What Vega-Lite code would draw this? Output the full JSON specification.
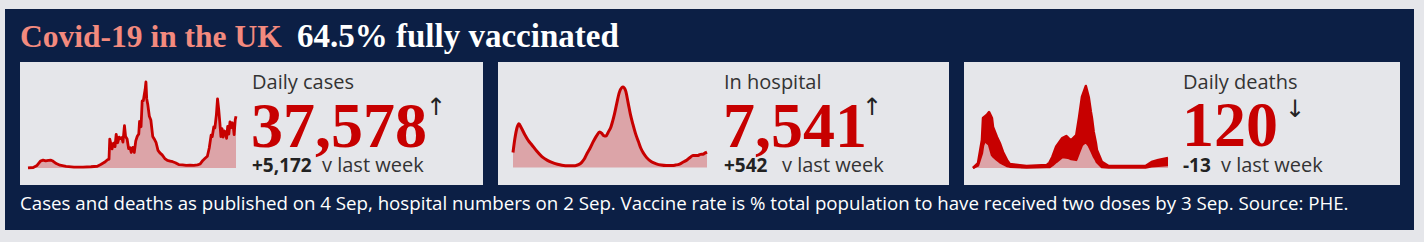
{
  "$schema": "https://vega.github.io/schema/vega-lite/v6.json",
  "width": 1409,
  "height": 221,
  "autosize": {"type": "none"},
  "padding": {"left": 5, "top": 9, "right": 10, "bottom": 12},
  "background": "#e5e6ea",
  "config": {"view": {"fill": "#0c1f45", "stroke": null}},
  "datasets": {
    "cases": [
      {"date": "2020-03-01", "value": 50}, {"date": "2020-03-15", "value": 400}, {"date": "2020-03-25", "value": 2000},
      {"date": "2020-04-03", "value": 5500}, {"date": "2020-04-10", "value": 6200}, {"date": "2020-04-17", "value": 5600},
      {"date": "2020-04-24", "value": 6000}, {"date": "2020-05-01", "value": 6200}, {"date": "2020-05-06", "value": 5500},
      {"date": "2020-05-15", "value": 3500}, {"date": "2020-05-25", "value": 2200}, {"date": "2020-06-10", "value": 1300},
      {"date": "2020-07-01", "value": 700}, {"date": "2020-07-25", "value": 750}, {"date": "2020-08-15", "value": 1000},
      {"date": "2020-09-01", "value": 1400}, {"date": "2020-09-10", "value": 2800}, {"date": "2020-09-20", "value": 4500},
      {"date": "2020-09-28", "value": 6500}, {"date": "2020-10-02", "value": 7000}, {"date": "2020-10-04", "value": 22900},
      {"date": "2020-10-07", "value": 19000}, {"date": "2020-10-10", "value": 15200}, {"date": "2020-10-14", "value": 19700},
      {"date": "2020-10-18", "value": 16900}, {"date": "2020-10-21", "value": 26700}, {"date": "2020-10-25", "value": 20000},
      {"date": "2020-10-29", "value": 24400}, {"date": "2020-11-01", "value": 23300}, {"date": "2020-11-05", "value": 24100},
      {"date": "2020-11-08", "value": 20500}, {"date": "2020-11-12", "value": 33500}, {"date": "2020-11-15", "value": 24900},
      {"date": "2020-11-19", "value": 22900}, {"date": "2020-11-23", "value": 15400}, {"date": "2020-11-27", "value": 16000},
      {"date": "2020-11-30", "value": 12300}, {"date": "2020-12-04", "value": 16300}, {"date": "2020-12-08", "value": 12300},
      {"date": "2020-12-12", "value": 21500}, {"date": "2020-12-16", "value": 25100}, {"date": "2020-12-20", "value": 27000},
      {"date": "2020-12-22", "value": 36800}, {"date": "2020-12-26", "value": 32700}, {"date": "2020-12-29", "value": 53100},
      {"date": "2021-01-01", "value": 53300}, {"date": "2021-01-04", "value": 58800}, {"date": "2021-01-06", "value": 62300},
      {"date": "2021-01-08", "value": 68100}, {"date": "2021-01-10", "value": 54900}, {"date": "2021-01-13", "value": 50000},
      {"date": "2021-01-17", "value": 41000}, {"date": "2021-01-21", "value": 38000}, {"date": "2021-01-26", "value": 25000},
      {"date": "2021-01-30", "value": 23000}, {"date": "2021-02-04", "value": 20000}, {"date": "2021-02-09", "value": 14000},
      {"date": "2021-02-14", "value": 12000}, {"date": "2021-02-20", "value": 10400}, {"date": "2021-02-27", "value": 7500},
      {"date": "2021-03-06", "value": 6000}, {"date": "2021-03-13", "value": 5500}, {"date": "2021-03-20", "value": 5000},
      {"date": "2021-03-27", "value": 4200}, {"date": "2021-04-05", "value": 2700}, {"date": "2021-04-15", "value": 2500},
      {"date": "2021-04-25", "value": 2000}, {"date": "2021-05-05", "value": 2200}, {"date": "2021-05-15", "value": 2100},
      {"date": "2021-05-25", "value": 2500}, {"date": "2021-06-01", "value": 3200}, {"date": "2021-06-08", "value": 6000},
      {"date": "2021-06-14", "value": 7700}, {"date": "2021-06-20", "value": 9300}, {"date": "2021-06-25", "value": 15800},
      {"date": "2021-06-30", "value": 26000}, {"date": "2021-07-03", "value": 24900}, {"date": "2021-07-07", "value": 32500},
      {"date": "2021-07-10", "value": 31800}, {"date": "2021-07-14", "value": 42300}, {"date": "2021-07-17", "value": 54700},
      {"date": "2021-07-20", "value": 46600}, {"date": "2021-07-23", "value": 36400}, {"date": "2021-07-26", "value": 24900},
      {"date": "2021-07-29", "value": 31100}, {"date": "2021-08-01", "value": 24500}, {"date": "2021-08-04", "value": 29300},
      {"date": "2021-08-07", "value": 28600}, {"date": "2021-08-10", "value": 23500}, {"date": "2021-08-13", "value": 33000},
      {"date": "2021-08-16", "value": 26800}, {"date": "2021-08-19", "value": 36600}, {"date": "2021-08-22", "value": 31900},
      {"date": "2021-08-25", "value": 35800}, {"date": "2021-08-28", "value": 32200}, {"date": "2021-08-30", "value": 26500},
      {"date": "2021-09-02", "value": 38200}, {"date": "2021-09-04", "value": 41000}
    ],
    "hospital": [
      {"date": "2020-03-27", "value": 7300}, {"date": "2020-04-01", "value": 14000}, {"date": "2020-04-07", "value": 19500},
      {"date": "2020-04-12", "value": 21300}, {"date": "2020-04-18", "value": 19500}, {"date": "2020-04-28", "value": 16000},
      {"date": "2020-05-08", "value": 13000}, {"date": "2020-05-17", "value": 11000}, {"date": "2020-05-30", "value": 8000},
      {"date": "2020-06-13", "value": 5300}, {"date": "2020-06-28", "value": 3500}, {"date": "2020-07-10", "value": 2500},
      {"date": "2020-07-25", "value": 1600}, {"date": "2020-08-06", "value": 1100}, {"date": "2020-08-25", "value": 800},
      {"date": "2020-09-11", "value": 900}, {"date": "2020-09-20", "value": 1400}, {"date": "2020-09-28", "value": 2400},
      {"date": "2020-10-05", "value": 4000}, {"date": "2020-10-12", "value": 6500}, {"date": "2020-10-20", "value": 9000},
      {"date": "2020-10-31", "value": 13000}, {"date": "2020-11-08", "value": 15500}, {"date": "2020-11-16", "value": 17300},
      {"date": "2020-11-22", "value": 16600}, {"date": "2020-11-27", "value": 15500}, {"date": "2020-12-03", "value": 15300},
      {"date": "2020-12-10", "value": 17500}, {"date": "2020-12-16", "value": 19500}, {"date": "2020-12-21", "value": 22500},
      {"date": "2020-12-26", "value": 26000}, {"date": "2021-01-01", "value": 31000}, {"date": "2021-01-08", "value": 36500},
      {"date": "2021-01-15", "value": 39000}, {"date": "2021-01-18", "value": 39250}, {"date": "2021-01-25", "value": 37500},
      {"date": "2021-02-01", "value": 31500}, {"date": "2021-02-07", "value": 26000}, {"date": "2021-02-14", "value": 21000},
      {"date": "2021-02-21", "value": 16500}, {"date": "2021-03-01", "value": 12500}, {"date": "2021-03-07", "value": 9500},
      {"date": "2021-03-15", "value": 6800}, {"date": "2021-03-23", "value": 4800}, {"date": "2021-04-05", "value": 2800},
      {"date": "2021-04-18", "value": 1800}, {"date": "2021-05-01", "value": 1200}, {"date": "2021-05-15", "value": 950},
      {"date": "2021-06-01", "value": 950}, {"date": "2021-06-09", "value": 1200}, {"date": "2021-06-20", "value": 1700},
      {"date": "2021-06-30", "value": 2700}, {"date": "2021-07-10", "value": 3700}, {"date": "2021-07-19", "value": 5000},
      {"date": "2021-07-26", "value": 5900}, {"date": "2021-08-02", "value": 5800}, {"date": "2021-08-09", "value": 5900},
      {"date": "2021-08-15", "value": 6400}, {"date": "2021-08-22", "value": 6500}, {"date": "2021-08-28", "value": 7100},
      {"date": "2021-09-02", "value": 7541}
    ],
    "deaths": [
      {"date": "2020-03-07", "hi": 0, "lo": 0}, {"date": "2020-03-21", "hi": 110, "lo": 60}, {"date": "2020-04-01", "hi": 620, "lo": 330},
      {"date": "2020-04-04", "hi": 1110, "lo": 500}, {"date": "2020-04-10", "hi": 1150, "lo": 620}, {"date": "2020-04-15", "hi": 1180, "lo": 560},
      {"date": "2020-04-21", "hi": 1240, "lo": 520}, {"date": "2020-04-29", "hi": 1110, "lo": 290}, {"date": "2020-05-02", "hi": 910, "lo": 260},
      {"date": "2020-05-13", "hi": 690, "lo": 180}, {"date": "2020-05-21", "hi": 555, "lo": 130}, {"date": "2020-05-30", "hi": 355, "lo": 90},
      {"date": "2020-06-10", "hi": 180, "lo": 45}, {"date": "2020-06-18", "hi": 90, "lo": 30}, {"date": "2020-08-04", "hi": 45, "lo": 10},
      {"date": "2020-09-29", "hi": 65, "lo": 20}, {"date": "2020-10-07", "hi": 120, "lo": 20}, {"date": "2020-10-15", "hi": 245, "lo": 60},
      {"date": "2020-10-26", "hi": 480, "lo": 135}, {"date": "2020-11-12", "hi": 665, "lo": 245}, {"date": "2020-11-23", "hi": 710, "lo": 230},
      {"date": "2020-12-01", "hi": 650, "lo": 220}, {"date": "2020-12-07", "hi": 620, "lo": 200}, {"date": "2020-12-21", "hi": 730, "lo": 180},
      {"date": "2020-12-29", "hi": 1130, "lo": 350}, {"date": "2021-01-06", "hi": 1575, "lo": 510}, {"date": "2021-01-17", "hi": 1820, "lo": 580},
      {"date": "2021-01-25", "hi": 1575, "lo": 500}, {"date": "2021-01-31", "hi": 1250, "lo": 400}, {"date": "2021-02-03", "hi": 1110, "lo": 350},
      {"date": "2021-02-08", "hi": 800, "lo": 260}, {"date": "2021-02-14", "hi": 560, "lo": 180}, {"date": "2021-02-17", "hi": 400, "lo": 130},
      {"date": "2021-03-03", "hi": 135, "lo": 20}, {"date": "2021-03-22", "hi": 45, "lo": 10}, {"date": "2021-07-03", "hi": 45, "lo": 10},
      {"date": "2021-07-20", "hi": 135, "lo": 40}, {"date": "2021-08-08", "hi": 180, "lo": 50}, {"date": "2021-09-04", "hi": 220, "lo": 65}
    ]
  },
  "resolve": {"scale": {"x": "independent", "y": "independent", "size": "independent", "color": "independent"}},
  "layer": [
    {
      "data": {"values": [{"k": "Covid-19 in the UK"}]},
      "mark": {"type": "text", "align": "left", "baseline": "alphabetic", "font": "Liberation Serif", "fontWeight": "bold", "fontSize": 31.5, "color": "#f38a7e"},
      "encoding": {
        "x": {"field": "k", "type": "nominal", "scale": {"type": "point", "range": [15, 15]}, "axis": null},
        "y": {"field": "k", "type": "nominal", "scale": {"type": "point", "range": [38, 38]}, "axis": null},
        "text": {"field": "k"}
      }
    },
    {
      "data": {"values": [{"k": "64.5% fully vaccinated"}]},
      "mark": {"type": "text", "align": "left", "baseline": "alphabetic", "font": "Liberation Serif", "fontWeight": "bold", "fontSize": 33, "color": "#ffffff"},
      "encoding": {
        "x": {"field": "k", "type": "nominal", "scale": {"type": "point", "range": [292, 292]}, "axis": null},
        "y": {"field": "k", "type": "nominal", "scale": {"type": "point", "range": [38, 38]}, "axis": null},
        "text": {"field": "k"}
      }
    },
    {
      "data": {"values": [{"k": "Cases and deaths as published on 4 Sep, hospital numbers on 2 Sep. Vaccine rate is % total population to have received two doses by 3 Sep. Source: PHE."}]},
      "mark": {"type": "text", "align": "left", "baseline": "alphabetic", "font": "Open Sans", "fontSize": 18.7, "color": "#ffffff"},
      "encoding": {
        "x": {"field": "k", "type": "nominal", "scale": {"type": "point", "range": [15, 15]}, "axis": null},
        "y": {"field": "k", "type": "nominal", "scale": {"type": "point", "range": [201, 201]}, "axis": null},
        "text": {"field": "k"}
      }
    },
    {
      "data": {"values": [{"metric": "Daily cases"}]},
      "mark": {"type": "rect", "color": "#e5e6ea"},
      "encoding": {
        "x": {"field": "metric", "type": "nominal", "scale": {"type": "band", "range": [15, 478], "paddingInner": 0, "paddingOuter": 0}, "axis": null},
        "y": {"field": "metric", "type": "nominal", "scale": {"type": "band", "range": [53, 176], "paddingInner": 0, "paddingOuter": 0}, "axis": null}
      }
    },
    {
      "data": {"values": [{"metric": "In hospital"}]},
      "mark": {"type": "rect", "color": "#e5e6ea"},
      "encoding": {
        "x": {"field": "metric", "type": "nominal", "scale": {"type": "band", "range": [493, 944], "paddingInner": 0, "paddingOuter": 0}, "axis": null},
        "y": {"field": "metric", "type": "nominal", "scale": {"type": "band", "range": [53, 176], "paddingInner": 0, "paddingOuter": 0}, "axis": null}
      }
    },
    {
      "data": {"values": [{"metric": "Daily deaths"}]},
      "mark": {"type": "rect", "color": "#e5e6ea"},
      "encoding": {
        "x": {"field": "metric", "type": "nominal", "scale": {"type": "band", "range": [959, 1395], "paddingInner": 0, "paddingOuter": 0}, "axis": null},
        "y": {"field": "metric", "type": "nominal", "scale": {"type": "band", "range": [53, 176], "paddingInner": 0, "paddingOuter": 0}, "axis": null}
      }
    },
    {
      "data": {"name": "cases"},
      "mark": {"type": "area", "color": "#dca4a8"},
      "encoding": {
        "x": {"field": "date", "type": "temporal", "scale": {"domain": ["2020-03-01", "2021-09-04"], "range": [23, 231]}, "axis": null},
        "y": {"field": "value", "type": "quantitative", "scale": {"domain": [0, 68100], "range": [159, 73], "nice": false}, "axis": null}
      }
    },
    {
      "data": {"name": "cases"},
      "mark": {"type": "line", "color": "#c70000", "strokeWidth": 2.8, "strokeJoin": "round"},
      "encoding": {
        "x": {"field": "date", "type": "temporal", "scale": {"domain": ["2020-03-01", "2021-09-04"], "range": [23, 231]}, "axis": null},
        "y": {"field": "value", "type": "quantitative", "scale": {"domain": [0, 68100], "range": [159, 73], "nice": false}, "axis": null}
      }
    },
    {
      "data": {"name": "hospital"},
      "mark": {"type": "area", "color": "#dca4a8", "interpolate": "monotone"},
      "encoding": {
        "x": {"field": "date", "type": "temporal", "scale": {"domain": ["2020-03-27", "2021-09-02"], "range": [508, 702]}, "axis": null},
        "y": {"field": "value", "type": "quantitative", "scale": {"domain": [0, 39250], "range": [158.5, 78], "nice": false}, "axis": null}
      }
    },
    {
      "data": {"name": "hospital"},
      "mark": {"type": "line", "color": "#c70000", "strokeWidth": 3, "interpolate": "monotone", "strokeJoin": "round"},
      "encoding": {
        "x": {"field": "date", "type": "temporal", "scale": {"domain": ["2020-03-27", "2021-09-02"], "range": [508, 702]}, "axis": null},
        "y": {"field": "value", "type": "quantitative", "scale": {"domain": [0, 39250], "range": [158.5, 78], "nice": false}, "axis": null}
      }
    },
    {
      "data": {"name": "deaths"},
      "mark": {"type": "area", "color": "#dca4a8"},
      "encoding": {
        "x": {"field": "date", "type": "temporal", "scale": {"domain": ["2020-03-07", "2021-09-04"], "range": [968, 1163]}, "axis": null},
        "y": {"field": "lo", "type": "quantitative", "scale": {"domain": [0, 1820], "range": [159, 77], "nice": false}, "axis": null}
      }
    },
    {
      "data": {"name": "deaths"},
      "mark": {"type": "area", "color": "#c70000"},
      "encoding": {
        "x": {"field": "date", "type": "temporal", "scale": {"domain": ["2020-03-07", "2021-09-04"], "range": [968, 1163]}, "axis": null},
        "y": {"field": "hi", "type": "quantitative", "scale": {"domain": [0, 1820], "range": [159, 77], "nice": false}, "axis": null},
        "y2": {"field": "lo"}
      }
    },
    {
      "data": {"name": "deaths"},
      "mark": {"type": "line", "color": "#c70000", "strokeWidth": 2.5, "strokeJoin": "round"},
      "encoding": {
        "x": {"field": "date", "type": "temporal", "scale": {"domain": ["2020-03-07", "2021-09-04"], "range": [968, 1163]}, "axis": null},
        "y": {"field": "hi", "type": "quantitative", "scale": {"domain": [0, 1820], "range": [159, 77], "nice": false}, "axis": null}
      }
    },
    {
      "data": {"name": "deaths"},
      "mark": {"type": "line", "color": "#c70000", "strokeWidth": 2.5, "strokeJoin": "round"},
      "encoding": {
        "x": {"field": "date", "type": "temporal", "scale": {"domain": ["2020-03-07", "2021-09-04"], "range": [968, 1163]}, "axis": null},
        "y": {"field": "lo", "type": "quantitative", "scale": {"domain": [0, 1820], "range": [159, 77], "nice": false}, "axis": null}
      }
    },
    {
      "data": {"values": [{"k": "Daily cases"}]},
      "mark": {"type": "text", "align": "left", "baseline": "alphabetic", "font": "Open Sans", "fontSize": 20, "color": "#333333"},
      "encoding": {
        "x": {"field": "k", "type": "nominal", "scale": {"type": "point", "range": [247, 247]}, "axis": null},
        "y": {"field": "k", "type": "nominal", "scale": {"type": "point", "range": [80, 80]}, "axis": null},
        "text": {"field": "k"}
      }
    },
    {
      "data": {"values": [{"k": "37,578"}]},
      "mark": {"type": "text", "align": "left", "baseline": "alphabetic", "font": "Liberation Serif", "fontWeight": "bold", "fontSize": 64, "color": "#c70000"},
      "encoding": {
        "x": {"field": "k", "type": "nominal", "scale": {"type": "point", "range": [246, 246]}, "axis": null},
        "y": {"field": "k", "type": "nominal", "scale": {"type": "point", "range": [138, 138]}, "axis": null},
        "text": {"field": "k"}
      }
    },
    {
      "data": {"values": [{"k": "↑"}]},
      "mark": {"type": "text", "align": "center", "baseline": "middle", "font": "DejaVu Sans", "fontSize": 24, "color": "#222222"},
      "encoding": {
        "x": {"field": "k", "type": "nominal", "scale": {"type": "point", "range": [431, 431]}, "axis": null},
        "y": {"field": "k", "type": "nominal", "scale": {"type": "point", "range": [99, 99]}, "axis": null},
        "text": {"field": "k"}
      }
    },
    {
      "data": {"values": [{"k": "+5,172"}]},
      "mark": {"type": "text", "align": "left", "baseline": "alphabetic", "font": "Open Sans", "fontWeight": "bold", "fontSize": 19, "color": "#222222"},
      "encoding": {
        "x": {"field": "k", "type": "nominal", "scale": {"type": "point", "range": [247, 247]}, "axis": null},
        "y": {"field": "k", "type": "nominal", "scale": {"type": "point", "range": [163, 163]}, "axis": null},
        "text": {"field": "k"}
      }
    },
    {
      "data": {"values": [{"k": "v last week"}]},
      "mark": {"type": "text", "align": "left", "baseline": "alphabetic", "font": "Open Sans", "fontSize": 20, "color": "#333333"},
      "encoding": {
        "x": {"field": "k", "type": "nominal", "scale": {"type": "point", "range": [317, 317]}, "axis": null},
        "y": {"field": "k", "type": "nominal", "scale": {"type": "point", "range": [163, 163]}, "axis": null},
        "text": {"field": "k"}
      }
    },
    {
      "data": {"values": [{"k": "In hospital"}]},
      "mark": {"type": "text", "align": "left", "baseline": "alphabetic", "font": "Open Sans", "fontSize": 20, "color": "#333333"},
      "encoding": {
        "x": {"field": "k", "type": "nominal", "scale": {"type": "point", "range": [719, 719]}, "axis": null},
        "y": {"field": "k", "type": "nominal", "scale": {"type": "point", "range": [80, 80]}, "axis": null},
        "text": {"field": "k"}
      }
    },
    {
      "data": {"values": [{"k": "7,541"}]},
      "mark": {"type": "text", "align": "left", "baseline": "alphabetic", "font": "Liberation Serif", "fontWeight": "bold", "fontSize": 64, "color": "#c70000"},
      "encoding": {
        "x": {"field": "k", "type": "nominal", "scale": {"type": "point", "range": [718, 718]}, "axis": null},
        "y": {"field": "k", "type": "nominal", "scale": {"type": "point", "range": [138, 138]}, "axis": null},
        "text": {"field": "k"}
      }
    },
    {
      "data": {"values": [{"k": "↑"}]},
      "mark": {"type": "text", "align": "center", "baseline": "middle", "font": "DejaVu Sans", "fontSize": 24, "color": "#222222"},
      "encoding": {
        "x": {"field": "k", "type": "nominal", "scale": {"type": "point", "range": [867, 867]}, "axis": null},
        "y": {"field": "k", "type": "nominal", "scale": {"type": "point", "range": [99, 99]}, "axis": null},
        "text": {"field": "k"}
      }
    },
    {
      "data": {"values": [{"k": "+542"}]},
      "mark": {"type": "text", "align": "left", "baseline": "alphabetic", "font": "Open Sans", "fontWeight": "bold", "fontSize": 19, "color": "#222222"},
      "encoding": {
        "x": {"field": "k", "type": "nominal", "scale": {"type": "point", "range": [719, 719]}, "axis": null},
        "y": {"field": "k", "type": "nominal", "scale": {"type": "point", "range": [163, 163]}, "axis": null},
        "text": {"field": "k"}
      }
    },
    {
      "data": {"values": [{"k": "v last week"}]},
      "mark": {"type": "text", "align": "left", "baseline": "alphabetic", "font": "Open Sans", "fontSize": 20, "color": "#333333"},
      "encoding": {
        "x": {"field": "k", "type": "nominal", "scale": {"type": "point", "range": [777, 777]}, "axis": null},
        "y": {"field": "k", "type": "nominal", "scale": {"type": "point", "range": [163, 163]}, "axis": null},
        "text": {"field": "k"}
      }
    },
    {
      "data": {"values": [{"k": "Daily deaths"}]},
      "mark": {"type": "text", "align": "left", "baseline": "alphabetic", "font": "Open Sans", "fontSize": 20, "color": "#333333"},
      "encoding": {
        "x": {"field": "k", "type": "nominal", "scale": {"type": "point", "range": [1178, 1178]}, "axis": null},
        "y": {"field": "k", "type": "nominal", "scale": {"type": "point", "range": [80, 80]}, "axis": null},
        "text": {"field": "k"}
      }
    },
    {
      "data": {"values": [{"k": "120"}]},
      "mark": {"type": "text", "align": "left", "baseline": "alphabetic", "font": "Liberation Serif", "fontWeight": "bold", "fontSize": 64, "color": "#c70000"},
      "encoding": {
        "x": {"field": "k", "type": "nominal", "scale": {"type": "point", "range": [1177, 1177]}, "axis": null},
        "y": {"field": "k", "type": "nominal", "scale": {"type": "point", "range": [137, 137]}, "axis": null},
        "text": {"field": "k"}
      }
    },
    {
      "data": {"values": [{"k": "↓"}]},
      "mark": {"type": "text", "align": "center", "baseline": "middle", "font": "DejaVu Sans", "fontSize": 24, "color": "#222222"},
      "encoding": {
        "x": {"field": "k", "type": "nominal", "scale": {"type": "point", "range": [1290, 1290]}, "axis": null},
        "y": {"field": "k", "type": "nominal", "scale": {"type": "point", "range": [101, 101]}, "axis": null},
        "text": {"field": "k"}
      }
    },
    {
      "data": {"values": [{"k": "-13"}]},
      "mark": {"type": "text", "align": "left", "baseline": "alphabetic", "font": "Open Sans", "fontWeight": "bold", "fontSize": 19, "color": "#222222"},
      "encoding": {
        "x": {"field": "k", "type": "nominal", "scale": {"type": "point", "range": [1178, 1178]}, "axis": null},
        "y": {"field": "k", "type": "nominal", "scale": {"type": "point", "range": [163, 163]}, "axis": null},
        "text": {"field": "k"}
      }
    },
    {
      "data": {"values": [{"k": "v last week"}]},
      "mark": {"type": "text", "align": "left", "baseline": "alphabetic", "font": "Open Sans", "fontSize": 20, "color": "#333333"},
      "encoding": {
        "x": {"field": "k", "type": "nominal", "scale": {"type": "point", "range": [1216, 1216]}, "axis": null},
        "y": {"field": "k", "type": "nominal", "scale": {"type": "point", "range": [163, 163]}, "axis": null},
        "text": {"field": "k"}
      }
    }
  ]
}
